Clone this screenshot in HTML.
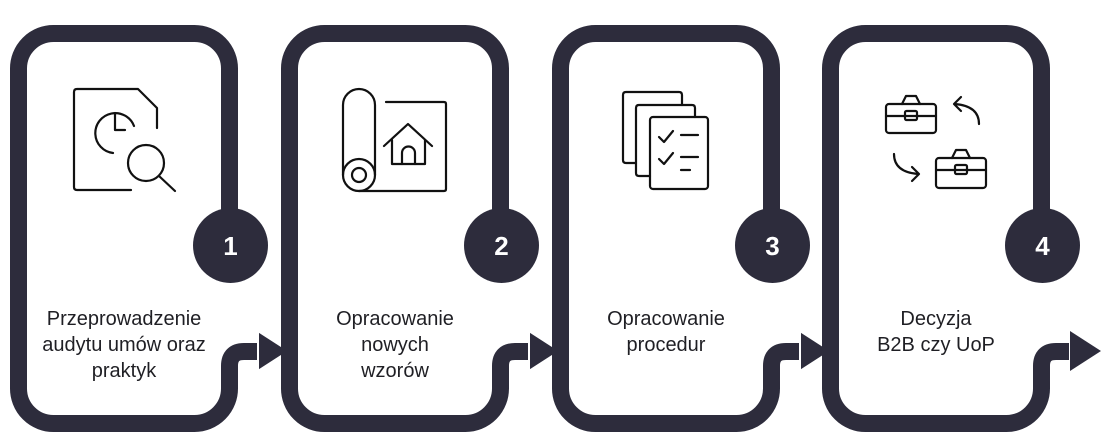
<!DOCTYPE html>
<html><head><meta charset="utf-8"><style>
html,body{margin:0;padding:0;background:#fff;width:1105px;height:448px;overflow:hidden}
svg{display:block}
text{font-family:"Liberation Sans",sans-serif;font-size:20px;fill:#1f1f24}
.n{font-size:26px;font-weight:bold;fill:#fff}
.ic{fill:none;stroke:#111;stroke-width:2.2;stroke-linecap:round;stroke-linejoin:round}
</style></head><body>
<svg width="1105" height="448" viewBox="0 0 1105 448">
<defs>
<g id="card">
<path d="M229.5 212 L229.5 69 A35 35 0 0 0 194.5 33.5 L54 33.5 A35 35 0 0 0 18.5 69 L18.5 388 A35 35 0 0 0 54 423.5 L194.5 423.5 A35 35 0 0 0 229.5 388 L229.5 366 Q229.5 351.5 244 351.5 L262 351.5" fill="none" stroke="#2d2c3c" stroke-width="17"/>
<circle cx="230.5" cy="245.5" r="37.5" fill="#2d2c3c"/>
<polygon points="258,331 289,351 258,371" fill="#2d2c3c" stroke="#fff" stroke-width="2"/>
</g>
</defs>
<use href="#card" x="0"/>
<use href="#card" x="271"/>
<use href="#card" x="542"/>
<use href="#card" x="812"/>
<polygon points="1070,331 1101,351 1070,371" fill="#2d2c3c"/>

<text class="n" x="230.5" y="255" text-anchor="middle">1</text>
<text class="n" x="501.5" y="255" text-anchor="middle">2</text>
<text class="n" x="772.5" y="255" text-anchor="middle">3</text>
<text class="n" x="1042.5" y="255" text-anchor="middle">4</text>

<text x="124" y="325" text-anchor="middle">Przeprowadzenie</text>
<text x="124" y="351" text-anchor="middle">audytu umów oraz</text>
<text x="124" y="377" text-anchor="middle">praktyk</text>
<text x="395" y="325" text-anchor="middle">Opracowanie</text>
<text x="395" y="351" text-anchor="middle">nowych</text>
<text x="395" y="377" text-anchor="middle">wzorów</text>
<text x="666" y="325" text-anchor="middle">Opracowanie</text>
<text x="666" y="351" text-anchor="middle">procedur</text>
<text x="936" y="325" text-anchor="middle">Decyzja</text>
<text x="936" y="351" text-anchor="middle">B2B czy UoP</text>

<!-- icon 1 -->
<path class="ic" d="M131 190 L77 190 Q74 190 74 187 L74 92 Q74 89 77 89 L138 89 L157 108 L157 128"/>
<path class="ic" d="M113 153 A20 20 0 1 1 134 126"/>
<path class="ic" d="M115 113 L115 130 L125 130"/>
<circle class="ic" cx="146" cy="163" r="18"/>
<path class="ic" d="M159 176 L175 191"/>

<!-- icon 2 -->
<path class="ic" d="M343 175 L343 105 A16 16 0 0 1 375 105 L375 175"/>
<circle class="ic" cx="359" cy="175" r="16"/>
<circle class="ic" cx="359" cy="175" r="7"/>
<path class="ic" d="M359 191 L444 191 Q446 191 446 189 L446 104 Q446 102 444 102 L386 102"/>
<path class="ic" d="M384 146 L408 124 L432 146"/>
<path class="ic" d="M392 140 L392 164 L425 164 L425 140"/>
<path class="ic" d="M402 164 L402 153 A6.5 6.5 0 0 1 415 153 L415 164"/>

<!-- icon 3 -->
<path class="ic" d="M636 163 L626 163 Q623 163 623 160 L623 95 Q623 92 626 92 L679 92 Q682 92 682 95 L682 105"/>
<path class="ic" d="M650 176 L639 176 Q636 176 636 173 L636 108 Q636 105 639 105 L692 105 Q695 105 695 108 L695 117"/>
<rect class="ic" x="650" y="117" width="58" height="72" rx="3"/>
<path class="ic" d="M659 137 L664 142 L673 131 M659 159 L664 164 L673 153 M681 135 L698 135 M681 157 L698 157 M681 170 L690 170"/>

<!-- icon 4 -->
<rect class="ic" x="886" y="104" width="50" height="29" rx="3"/>
<path class="ic" d="M886 116 L936 116 M902 104 L906 96 L916 96 L920 104"/>
<rect class="ic" x="905" y="111" width="12" height="9" rx="1.5"/>
<rect class="ic" x="936" y="158" width="50" height="30" rx="3"/>
<path class="ic" d="M936 170 L986 170 M952 158 L956 150 L966 150 L970 158"/>
<rect class="ic" x="955" y="165" width="12" height="9" rx="1.5"/>
<path class="ic" d="M979 124 Q979 106 955 104 M961 97 L954 104 L961 111"/>
<path class="ic" d="M894 154 Q894 172 918 174 M912 167 L919 174 L912 181"/>
</svg>
</body></html>
